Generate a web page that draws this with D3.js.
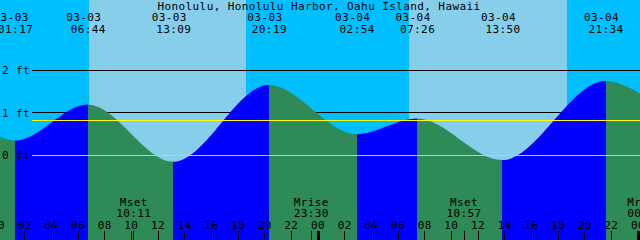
<!DOCTYPE html>
<html>
<head>
<meta charset="utf-8">
<script src="https://cdn.jsdelivr.net/npm/d3@7"></script>
<style>
  html, body { margin: 0; padding: 0; background: #fff; }
  svg { display: block; }
  text { font-family: "DejaVu Sans Mono", monospace; font-size: 11px; letter-spacing: 0.4px; fill: #000; }
</style>
</head>
<body>
<svg id="chart" width="640" height="240"></svg>
<script>
// ---- data ----
const title = "Honolulu, Honolulu Harbor, Oahu Island, Hawaii";
const year = "2024";
const domainTimes = ["03-03 00:09", "03-05 00:09"];
const hourRange = ["03-03 00:00", "03-05 00:10"];
const extremaTimes = ["03-03 01:17", "03-03 06:44", "03-03 13:09", "03-03 20:19",
                      "03-04 02:54", "03-04 07:26", "03-04 13:50", "03-04 21:34"];
const extremaHeights = [0.34, 1.19, -0.16, 1.65, 0.49, 0.86, -0.12, 1.74];
const edgeTimes = ["03-03 00:09", "03-05 00:09"];
const edgeHeights = [0.43, 1.45];
const sunTimes = ["03-03 06:50", "03-03 18:36", "03-04 06:50", "03-04 18:40"]; // rise, set, rise, set
const moonTimes = ["03-03 10:11", "03-03 23:30", "03-04 10:57", "03-05 00:31"];
const moonLabels = ["Mset", "Mrise", "Mset", "Mrise"];
const levelTicks = [2, 1, 0];
const levelLabels = ["2 ft", "1 ft", "0 ft"];
const meanLevel = 0.81;

// ---- setup ----
const W = 640, H = 240;
const parse = d3.utcParse("%Y-%m-%d %H:%M");
const P = s => parse(year + "-" + s);
const svg = d3.select("#chart");

const x = d3.scaleUtc().domain(domainTimes.map(P)).range([0, W]);
const y = d3.scaleLinear().domain([0, 2]).range([155, 70]);
const crisp = v => Math.floor(v) + 0.5;

const colors = {
  night: "#00BFFF", day: "#87CEEB",
  rising: "#0000FF", falling: "#2E8B57",
  grid: "#000000", zero: "#9FD6EE", mean: "#FFFF00"
};

// ---- sky (day / night) ----
const sunX = sunTimes.map(s => x(P(s)));
const skyBounds = [0, ...sunX, W];
for (let i = 0; i < skyBounds.length - 1; i++) {
  svg.append("rect")
    .attr("x", Math.round(skyBounds[i])).attr("y", 0)
    .attr("width", Math.round(skyBounds[i + 1]) - Math.round(skyBounds[i])).attr("height", H)
    .attr("fill", i % 2 === 0 ? colors.night : colors.day)
    .attr("shape-rendering", "crispEdges");
}

// ---- grid lines at 1 and 2 ft (behind water) ----
levelTicks.filter(v => v !== 0).forEach(v => {
  svg.append("line")
    .attr("x1", 32).attr("x2", W)
    .attr("y1", crisp(y(v))).attr("y2", crisp(y(v)))
    .attr("stroke", colors.grid).attr("stroke-width", 1)
    .attr("shape-rendering", "crispEdges");
});

// ---- tide area ----
const pts = [
  { t: P(edgeTimes[0]), h: edgeHeights[0] },
  ...extremaTimes.map((s, i) => ({ t: P(s), h: extremaHeights[i] })),
  { t: P(edgeTimes[1]), h: edgeHeights[1] }
];
const area = d3.area()
  .x(d => x(d.t)).y0(H).y1(d => y(d.h))
  .curve(d3.curveMonotoneX);

const defs = svg.append("defs");
const clipRise = defs.append("clipPath").attr("id", "clipRise");
const clipFall = defs.append("clipPath").attr("id", "clipFall");
for (let i = 0; i < pts.length - 1; i++) {
  const a = Math.round(x(pts[i].t)), b = Math.round(x(pts[i + 1].t));
  const target = pts[i + 1].h > pts[i].h ? clipRise : clipFall;
  target.append("rect").attr("x", a).attr("y", 0).attr("width", b - a).attr("height", H);
}
svg.append("path").datum(pts).attr("d", area)
  .attr("fill", colors.rising).attr("clip-path", "url(#clipRise)");
svg.append("path").datum(pts).attr("d", area)
  .attr("fill", colors.falling).attr("clip-path", "url(#clipFall)");

// ---- zero line and mean level (on top) ----
svg.append("line")
  .attr("x1", 32).attr("x2", W)
  .attr("y1", crisp(y(0))).attr("y2", crisp(y(0)))
  .attr("stroke", colors.zero).attr("stroke-width", 1)
  .attr("shape-rendering", "crispEdges");
svg.append("line")
  .attr("x1", 32).attr("x2", W)
  .attr("y1", crisp(y(meanLevel))).attr("y2", crisp(y(meanLevel)))
  .attr("stroke", colors.mean).attr("stroke-width", 1)
  .attr("shape-rendering", "crispEdges");

// ---- level labels ----
levelTicks.forEach((v, i) => {
  svg.append("text").attr("x", 2).attr("y", y(v) + 4).text(levelLabels[i]);
});

// ---- title ----
svg.append("text").attr("x", 319).attr("y", 9.5).attr("text-anchor", "middle").text(title);

// ---- extrema labels ----
extremaTimes.forEach(s => {
  const xx = x(P(s));
  const [d, t] = s.split(" ");
  svg.append("text").attr("x", xx - 4).attr("y", 21).attr("text-anchor", "middle").text(d);
  svg.append("text").attr("x", xx + 0.5).attr("y", 33.3).attr("text-anchor", "middle").text(t);
});

// ---- hour ticks ----
const hours = d3.utcHour.every(2).range(P(hourRange[0]), P(hourRange[1]));
const fmtH = d3.utcFormat("%H");
hours.forEach(h => {
  const xx = x(h);
  const midnight = h.getUTCHours() === 0;
  svg.append("rect")
    .attr("x", midnight ? Math.round(xx) - 1.5 : Math.floor(xx))
    .attr("y", 231).attr("width", midnight ? 3 : 1).attr("height", 9)
    .attr("fill", "#000").attr("shape-rendering", "crispEdges");
  svg.append("text").attr("x", xx).attr("y", 229.3).attr("text-anchor", "middle").text(fmtH(h));
});

// ---- moon events ----
moonTimes.forEach((s, i) => {
  const xx = x(P(s));
  svg.append("rect").attr("x", Math.floor(xx)).attr("y", 231).attr("width", 1).attr("height", 9)
    .attr("fill", "#000").attr("shape-rendering", "crispEdges");
  svg.append("text").attr("x", xx).attr("y", 205.5).attr("text-anchor", "middle").text(moonLabels[i]);
  svg.append("text").attr("x", xx).attr("y", 217.3).attr("text-anchor", "middle").text(s.split(" ")[1]);
});
</script>
</body>
</html>
